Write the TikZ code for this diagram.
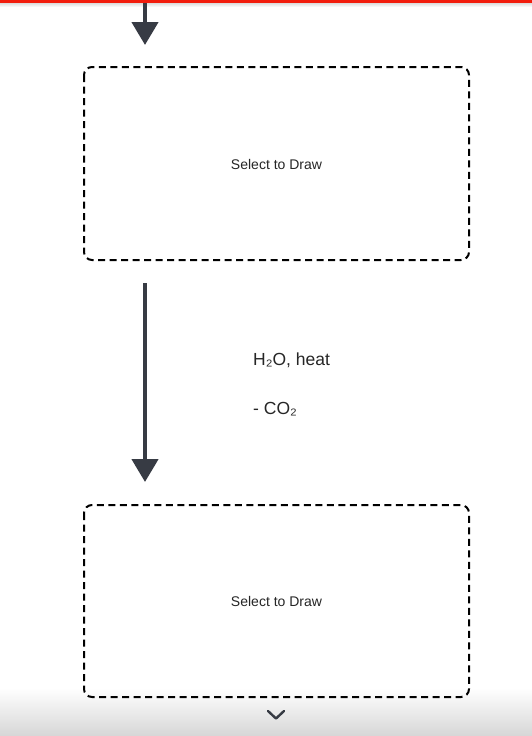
\documentclass[tikz,border=0pt]{standalone}
\usepackage{fontspec}
\setmainfont{Liberation Sans}
\usetikzlibrary{arrows.meta}
\definecolor{arrowgray}{HTML}{373B44}
\definecolor{barred}{HTML}{F21C0C}
\tikzset{
  drawbox/.style={draw=black, line width=2pt, dash pattern=on 7pt off 4.5pt, rounded corners=8pt},
  flowarrow/.style={draw=arrowgray, line width=4.5pt, -{Triangle[length=23pt,width=26pt]}},
  boxtext/.style={font=\fontsize{14}{16}\selectfont, text=black!85, inner sep=0pt},
  condtext/.style={font=\fontsize{17.5}{20}\selectfont, text=black!85, anchor=west, inner sep=0pt}
}
\begin{document}
\begin{tikzpicture}[x=1pt,y=-1pt]
\useasboundingbox (0,0) rectangle (532,736);
\fill[white] (0,0) rectangle (532,736);
% top red bar
\fill[barred] (0,0) rectangle (532,3.5);
\shade[top color=black!12, bottom color=white] (0,3.5) rectangle (532,7);
% bottom gray bar
\shade[top color=white, bottom color=black!16] (0,688) rectangle (532,736);
% boxes
\draw[drawbox] (84,67) rectangle (469,260);
\node[boxtext] (box1) at (276.5,164) {Select to Draw};
\draw[drawbox] (84,505) rectangle (469,697);
\node[boxtext] (box2) at (276.5,601) {Select to Draw};
% arrows
\coordinate (a0) at (145,3);
\coordinate (a1) at (145,45);
\draw[flowarrow] (a0) -- (a1);
\coordinate (b0) at (145,283);
\coordinate (b1) at (145,482);
\draw[flowarrow] (b0) -- (b1);
% conditions
\node[condtext] (cond1) at (253,360) {H₂O, heat};
\node[condtext] (cond2) at (253,409) {- CO₂};
% chevron
\coordinate (c0) at (268,711);
\coordinate (c1) at (276,718.5);
\coordinate (c2) at (284,711);
\draw[arrowgray, line width=2.4pt, line cap=round, line join=round] (c0) -- (c1) -- (c2);
\end{tikzpicture}
\end{document}
